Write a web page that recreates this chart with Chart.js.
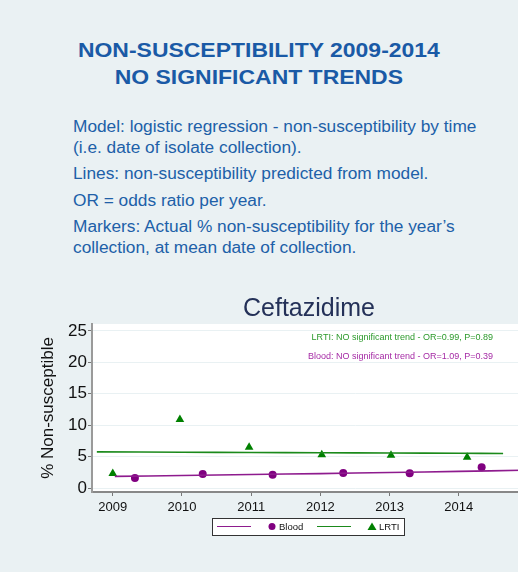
<!DOCTYPE html>
<html>
<head>
<meta charset="utf-8">
<script src="https://cdn.jsdelivr.net/npm/chart.js@4"></script>
<style>
  html, body { margin: 0; padding: 0; }
  body {
    width: 518px; height: 572px; overflow: hidden; position: relative;
    background: #eaf1f3; font-family: "Liberation Sans", Arial, sans-serif;
  }
  .head {
    position: absolute; left: 0; width: 518px; text-align: center;
    color: #1a5aa6; font-weight: bold; font-size: 20.5px; line-height: 24px;
    transform: scaleX(1.12); transform-origin: 260px 0;
  }
  .txt {
    position: absolute; left: 73px; color: #2060a8;
    font-size: 17.3px; line-height: 20px; white-space: nowrap;
  }
  #box { position: absolute; left: 0; top: 290px; width: 634px; height: 282px; }
</style>
</head>
<body>
<div class="head" style="top:38px">NON-SUSCEPTIBILITY 2009-2014</div>
<div class="head" style="top:64.5px">NO SIGNIFICANT TRENDS</div>
<div class="txt" style="top:116px">Model: logistic regression - non-susceptibility by time</div>
<div class="txt" style="top:137px">(i.e. date of isolate collection).</div>
<div class="txt" style="top:163px">Lines: non-susceptibility predicted from model.</div>
<div class="txt" style="top:190px">OR = odds ratio per year.</div>
<div class="txt" style="top:216px">Markers: Actual % non-susceptibility for the year’s</div>
<div class="txt" style="top:237px">collection, at mean date of collection.</div>
<div id="box"><canvas id="chart"></canvas></div>

<script>
// marcadores: % observado por ano (na data média de coleta)
const bloodX = [2009.32, 2010.30, 2011.31, 2012.33, 2013.29, 2014.33];
const bloodY = [1.6, 2.25, 2.1, 2.4, 2.35, 3.3];
const lrtiX = [2009.0, 2009.97, 2010.97, 2012.02, 2013.02, 2014.12];
const lrtiY = [2.3, 10.9, 6.5, 5.3, 5.2, 4.9];

// curvas previstas pelo modelo
const bloodFitX = [2009.03, 2010, 2011, 2012, 2013, 2014, 2014.9];
const bloodFitY = [1.85, 2.0, 2.15, 2.3, 2.47, 2.65, 2.83];
const lrtiFitX = [2008.77, 2010, 2011, 2012, 2013, 2014, 2014.64];
const lrtiFitY = [5.75, 5.7, 5.66, 5.62, 5.57, 5.53, 5.5];

const yearTicks = [2009, 2010, 2011, 2012, 2013, 2014];
const pctTicks = [0, 5, 10, 15, 20, 25];

const notes = [
    { text: 'LRTI: NO significant trend - OR=0.99, P=0.89', color: '#2c9a2c' },
    { text: 'Blood: NO significant trend - OR=1.09, P=0.39', color: '#a52aa5' }
];

const PURPLE = '#800080';
const PURPLE_LINE = '#8e1b8e';
const GREEN = '#008000';
const GREEN_LINE = '#1b8a1b';
const FONT = '"Liberation Sans", Arial, sans-serif';

function pts(xs, ys) {
    return xs.map((x, i) => ({ x: x, y: ys[i] }));
}

// fundo branco da área do gráfico
const plotBg = {
    id: 'plotBg',
    beforeDraw(chart) {
        const a = chart.chartArea;
        const ctx = chart.ctx;
        ctx.save();
        ctx.fillStyle = '#ffffff';
        ctx.fillRect(a.left, a.top, a.right - a.left, a.bottom - a.top);
        ctx.restore();
    }
};

// textos com OR e P no canto superior direito
const trendNotes = {
    id: 'trendNotes',
    afterDraw(chart) {
        const a = chart.chartArea;
        const ctx = chart.ctx;
        ctx.save();
        ctx.font = '9px ' + FONT;
        ctx.textAlign = 'right';
        ctx.textBaseline = 'middle';
        notes.forEach((n, i) => {
            ctx.fillStyle = n.color;
            ctx.fillText(n.text, 493, a.top + 14 + i * 19);
        });
        ctx.restore();
    }
};

// legenda no estilo Stata (linha + marcador, com moldura)
const stataLegend = {
    id: 'stataLegend',
    afterDraw(chart) {
        const a = chart.chartArea;
        const ctx = chart.ctx;
        const top = a.bottom + 26, h = 17, left = 212, w = 192;
        const cy = top + h / 2;
        ctx.save();
        ctx.fillStyle = '#ffffff';
        ctx.fillRect(left, top, w, h);
        ctx.strokeStyle = '#333';
        ctx.lineWidth = 1;
        ctx.strokeRect(left + 0.5, top + 0.5, w, h);
        ctx.font = '9.5px ' + FONT;
        ctx.textBaseline = 'middle';
        const items = [
            { line: PURPLE_LINE, mark: 'circle', color: PURPLE, label: 'Blood', x: 217 },
            { line: GREEN_LINE, mark: 'triangle', color: GREEN, label: 'LRTI', x: 317 }
        ];
        items.forEach(it => {
            ctx.strokeStyle = it.line;
            ctx.lineWidth = 1.2;
            ctx.beginPath();
            ctx.moveTo(it.x, cy);
            ctx.lineTo(it.x + 34, cy);
            ctx.stroke();
            ctx.fillStyle = it.color;
            ctx.beginPath();
            if (it.mark === 'circle') {
                ctx.arc(it.x + 55, cy, 3.5, 0, Math.PI * 2);
            } else {
                ctx.moveTo(it.x + 55, cy - 4);
                ctx.lineTo(it.x + 59.5, cy + 3.5);
                ctx.lineTo(it.x + 50.5, cy + 3.5);
                ctx.closePath();
            }
            ctx.fill();
            ctx.fillStyle = '#111';
            ctx.fillText(it.label, it.x + 62, cy + 0.5);
        });
        ctx.restore();
    }
};

new Chart(document.getElementById('chart'), {
    type: 'scatter',
    data: {
        datasets: [
            {
                type: 'line', label: 'Blood fit', data: pts(bloodFitX, bloodFitY),
                borderColor: PURPLE_LINE, borderWidth: 1.6, pointRadius: 0,
                tension: 0.4, fill: false
            },
            {
                type: 'line', label: 'LRTI fit', data: pts(lrtiFitX, lrtiFitY),
                borderColor: GREEN_LINE, borderWidth: 1.6, pointRadius: 0,
                tension: 0.4, fill: false
            },
            {
                label: 'Blood', data: pts(bloodX, bloodY),
                pointStyle: 'circle', pointRadius: 4, backgroundColor: PURPLE,
                borderColor: PURPLE, borderWidth: 0
            },
            {
                label: 'LRTI', data: pts(lrtiX, lrtiY),
                pointStyle: 'triangle', pointRadius: 5, backgroundColor: GREEN,
                borderColor: GREEN, borderWidth: 0
            }
        ]
    },
    options: {
        responsive: true,
        maintainAspectRatio: false,
        animation: false,
        events: [],
        layout: { padding: { left: 0, right: 16, top: 0, bottom: 52 } },
        plugins: {
            legend: { display: false },
            tooltip: { enabled: false },
            title: {
                display: true,
                text: 'Ceftazidime',
                color: '#243158',
                font: { family: FONT, size: 25, weight: 'normal' },
                padding: { top: 4, bottom: 0 }
            }
        },
        scales: {
            x: {
                type: 'linear',
                min: 2008.7,
                max: 2016.30,
                afterBuildTicks: s => { s.ticks = yearTicks.map(v => ({ value: v })); },
                afterFit: s => { s.height = 28; },
                grid: { drawOnChartArea: false, tickLength: 4, tickColor: '#777', tickWidth: 1 },
                border: { color: '#888', width: 2 },
                ticks: {
                    color: '#111', padding: 4,
                    font: { family: FONT, size: 13 },
                    callback: v => String(v)
                }
            },
            y: {
                min: -0.63,
                max: 26.1,
                afterBuildTicks: s => { s.ticks = pctTicks.map(v => ({ value: v })); },
                afterFit: s => { s.width = 92; },
                grid: { color: '#e9f1f3', lineWidth: 1, tickLength: 4, tickColor: '#777', tickWidth: 1 },
                border: { color: '#9a9a9a', width: 2 },
                ticks: {
                    color: '#111', padding: 1,
                    font: { family: FONT, size: 17 }
                },
                title: {
                    display: true,
                    text: '% Non-susceptible',
                    color: '#111',
                    font: { family: FONT, size: 17 },
                    padding: { top: 38, bottom: 0 }
                }
            }
        }
    },
    plugins: [plotBg, trendNotes, stataLegend]
});
</script>
</body>
</html>
